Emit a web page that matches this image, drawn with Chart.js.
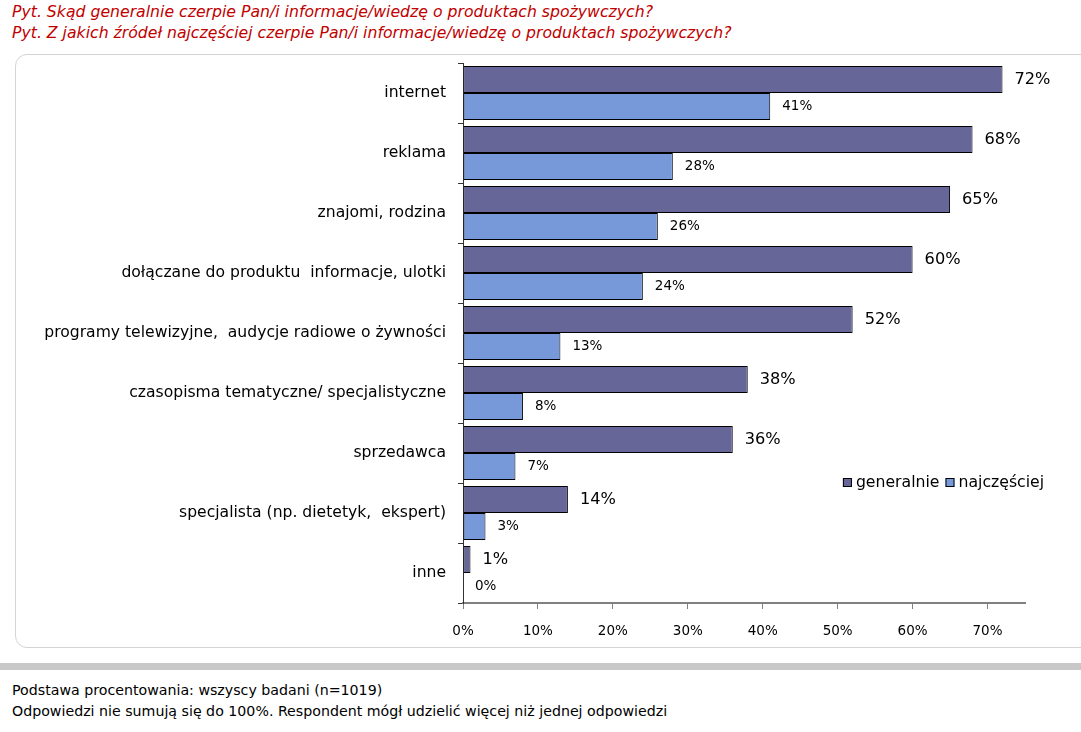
<!DOCTYPE html>
<html>
<head>
<meta charset="utf-8">
<script src="https://cdn.jsdelivr.net/npm/chart.js@4"></script>
<style>
  body { margin: 0; width: 1081px; height: 732px; position: relative; background: #fff; font-family: "DejaVu Sans", sans-serif; overflow: hidden; }
  .title { position: absolute; left: 12px; color: #c00000; font-style: italic; font-size: 15.7px; white-space: nowrap; }
  .panel { position: absolute; left: 15px; top: 54px; width: 1090px; height: 592px; border: 1px solid #d4d4d4; border-radius: 12px; }
  .bar { position: absolute; left: 0; top: 663px; width: 1081px; height: 7px; background: #c8c8c8; }
  .foot { position: absolute; left: 12px; font-size: 14.2px; color: #000; white-space: nowrap; }
  #chart { position: absolute; left: 0; top: 0; }
</style>
</head>
<body>
<div class="title" style="top:2px">Pyt. Skąd generalnie czerpie Pan/i informacje/wiedzę o produktach spożywczych?</div>
<div class="title" style="top:23px">Pyt. Z jakich źródeł najczęściej czerpie Pan/i informacje/wiedzę o produktach spożywczych?</div>
<div class="panel"></div>
<div class="bar"></div>
<div class="foot" style="top:682px">Podstawa procentowania: wszyscy badani (n=1019)</div>
<div class="foot" style="top:703px">Odpowiedzi nie sumują się do 100%. Respondent mógł udzielić więcej niż jednej odpowiedzi</div>
<canvas id="chart" width="1081" height="732"></canvas>
<script>
const categories = [
  'internet',
  'reklama',
  'znajomi, rodzina',
  'dołączane do produktu  informacje, ulotki',
  'programy telewizyjne,  audycje radiowe o żywności',
  'czasopisma tematyczne/ specjalistyczne',
  'sprzedawca',
  'specjalista (np. dietetyk,  ekspert)',
  'inne'
];
const generalnie = [72, 68, 65, 60, 52, 38, 36, 14, 1];
const najczesciej = [41, 28, 26, 24, 13, 8, 7, 3, 0];
const xTicks = [0, 10, 20, 30, 40, 50, 60, 70];
const seriesNames = ['generalnie', 'najczęściej'];
const seriesColors = ['#666699', '#7799d9'];

const FONT = '"DejaVu Sans", sans-serif';

// etykiety wartości przy słupkach
const valueLabels = {
  id: 'valueLabels',
  afterDatasetsDraw(chart) {
    const ctx = chart.ctx;
    ctx.save();
    ctx.textBaseline = 'middle';
    ctx.textAlign = 'left';
    ctx.fillStyle = '#000';
    chart.data.datasets.forEach((ds, i) => {
      const meta = chart.getDatasetMeta(i);
      ctx.font = i === 0 ? '16.2px ' + FONT : '13.5px ' + FONT;
      meta.data.forEach((bar, j) => {
        ctx.fillText(ds.data[j] + '%', bar.x + 12, bar.y);
      });
    });
    ctx.restore();
  }
};

// legenda wewnątrz obszaru wykresu
const innerLegend = {
  id: 'innerLegend',
  afterDraw(chart) {
    const ctx = chart.ctx;
    const xs = chart.scales.x;
    const ys = chart.scales.y;
    let x = xs.getPixelForValue(50.7);
    const y = (ys.getPixelForValue(6) + ys.getPixelForValue(7)) / 2;
    ctx.save();
    ctx.font = '15.7px ' + FONT;
    ctx.textBaseline = 'middle';
    chart.data.datasets.forEach((ds) => {
      ctx.fillStyle = ds.backgroundColor;
      ctx.fillRect(x, y - 5, 9, 9);
      ctx.strokeStyle = '#000';
      ctx.lineWidth = 1;
      ctx.strokeRect(x + 0.5, y - 4.5, 8, 8);
      ctx.fillStyle = '#000';
      ctx.fillText(ds.label, x + 13, y);
      x += 13 + ctx.measureText(ds.label).width + 6;
    });
    ctx.restore();
  }
};

new Chart(document.getElementById('chart').getContext('2d'), {
  type: 'bar',
  data: {
    labels: categories,
    datasets: [
      { label: seriesNames[0], data: generalnie, backgroundColor: seriesColors[0], borderColor: '#000', borderWidth: 1, borderSkipped: false },
      { label: seriesNames[1], data: najczesciej, backgroundColor: seriesColors[1], borderColor: '#000', borderWidth: 1, borderSkipped: false }
    ]
  },
  options: {
    indexAxis: 'y',
    responsive: false,
    animation: false,
    layout: { padding: { top: 63, right: 56, bottom: 89, left: 0 } },
    datasets: { bar: { barPercentage: 1, categoryPercentage: 0.9 } },
    plugins: { legend: { display: false }, tooltip: { enabled: false } },
    scales: {
      x: {
        min: 0,
        max: 75,
        afterFit: (s) => { s.height = 40; },
        afterBuildTicks: (s) => { s.ticks = xTicks.map(v => ({ value: v })); },
        ticks: {
          padding: 14,
          color: '#000',
          font: { family: FONT, size: 13.5 },
          callback: (v) => v + '%'
        },
        grid: { drawOnChartArea: false, tickLength: 6, color: '#808080' },
        border: { color: '#808080', width: 2 }
      },
      y: {
        afterFit: (s) => { s.width = 463; },
        ticks: {
          padding: 12,
          color: '#000',
          font: { family: FONT, size: 15.6 }
        },
        grid: { drawOnChartArea: false, offset: true, tickLength: 5, color: '#333' },
        border: { color: '#333', width: 1 }
      }
    }
  },
  plugins: [valueLabels, innerLegend]
});
</script>
</body>
</html>
